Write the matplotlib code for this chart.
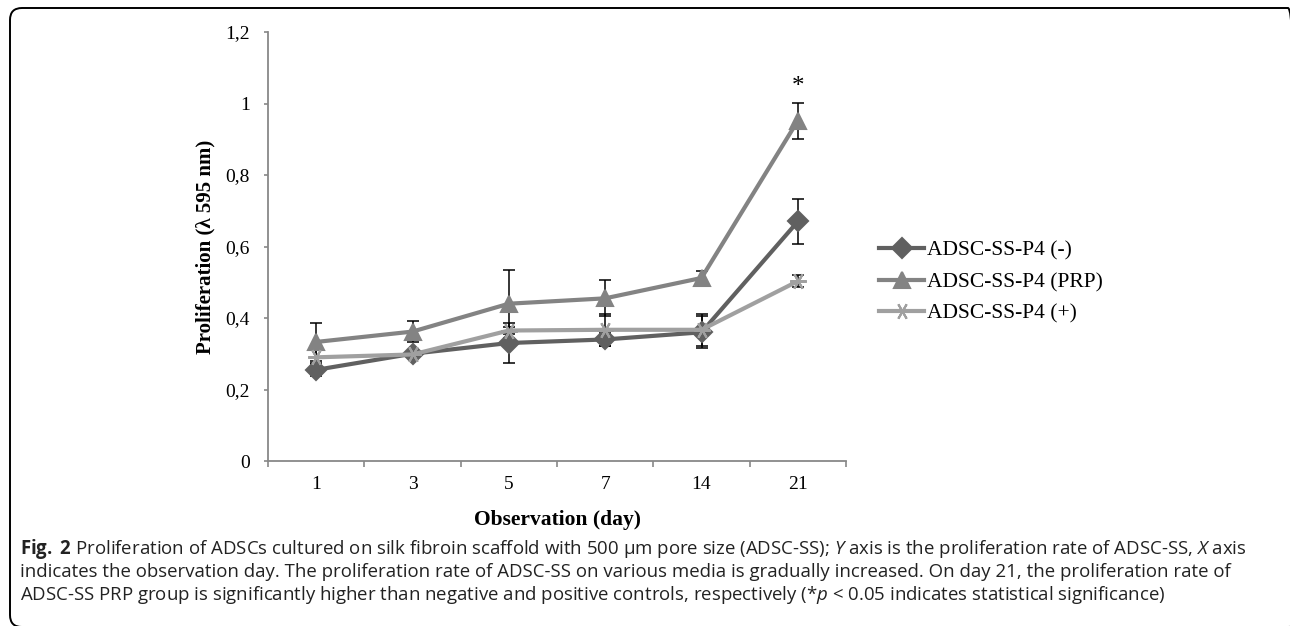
import matplotlib
matplotlib.use("Agg")
import matplotlib.pyplot as plt
from matplotlib.patches import FancyBboxPatch
from matplotlib.lines import Line2D

days = ["1", "3", "5", "7", "14", "21"]

neg = [0.255, 0.30, 0.33, 0.34, 0.36, 0.67]
neg_err = [0.018, 0.01, 0.055, 0.017, 0.045, 0.062]

prp = [0.333, 0.362, 0.44, 0.455, 0.512, 0.952]
prp_err = [0.053, 0.03, 0.095, 0.05, 0.02, 0.05]

pos = [0.29, 0.298, 0.365, 0.367, 0.367, 0.503]
pos_err = [0.02, 0.01, 0.01, 0.045, 0.045, 0.016]

yticks = [0, 0.2, 0.4, 0.6, 0.8, 1.0, 1.2]
ytick_labels = ["0", "0,2", "0,4", "0,6", "0,8", "1", "1,2"]

labels = ["ADSC-SS-P4 (-)", "ADSC-SS-P4 (PRP)", "ADSC-SS-P4 (+)"]
colors = ["#606060", "#838383", "#a0a0a0"]

caption = [
    r"$\mathbf{Fig.}$ $\mathbf{2}$ Proliferation of ADSCs cultured on silk fibroin scaffold with 500 μm pore size (ADSC-SS); $\mathit{Y}$ axis is the proliferation rate of ADSC-SS, $\mathit{X}$ axis",
    "indicates the observation day. The proliferation rate of ADSC-SS on various media is gradually increased. On day 21, the proliferation rate of",
    r"ADSC-SS PRP group is significantly higher than negative and positive controls, respectively (*$\mathit{p}$ < 0.05 indicates statistical significance)",
]

plt.rcParams["mathtext.fontset"] = "custom"
plt.rcParams["mathtext.rm"] = "Open Sans"
plt.rcParams["mathtext.it"] = "Open Sans:italic"
plt.rcParams["mathtext.bf"] = "Open Sans:bold"

W, H = 1290, 626
fig = plt.figure(figsize=(W / 100, H / 100), dpi=100)
# axes box in pixels: x 268..846, y 32..461
ax = fig.add_axes([268 / W, 1 - 461 / H, 578 / W, 429 / H])

x = list(range(len(days)))
star = (6, 2, 90)
series = [(neg, neg_err, "D", 10), (prp, prp_err, "^", 11), (pos, pos_err, star, 12)]
for (vals, err, mk, ms), lab, c in zip(series, labels, colors):
    ax.errorbar(x, vals, yerr=err, fmt="none", ecolor="black", elinewidth=1.1,
                capsize=4, capthick=1.1, zorder=2)
    ax.plot(x, vals, color=c, lw=3.0, marker=mk, markersize=ms,
            markeredgecolor=c, markeredgewidth=1.5, zorder=3)

ax.text(5, prp[5] + prp_err[5] + 0.045, "*", ha="center", va="center",
        fontsize=18, family="Liberation Serif")

ax.set_xlim(-0.5, 5.5)
ax.set_ylim(0, 1.2)
ax.set_xticks(x)
ax.set_xticklabels(days)
ax.set_xticks([i - 0.5 for i in range(len(days) + 1)], minor=True)
ax.tick_params(axis="x", which="major", length=0, pad=11)
ax.tick_params(axis="x", which="minor", length=4, color="#888888", width=1.2)
ax.set_yticks(yticks)
ax.set_yticklabels(ytick_labels)
ax.tick_params(axis="y", length=3, color="#888888", width=1.2, pad=10)
for t in ax.get_xticklabels() + ax.get_yticklabels():
    t.set_family("Liberation Serif")
    t.set_fontsize(14)

for s in ["top", "right"]:
    ax.spines[s].set_visible(False)
for s in ["left", "bottom"]:
    ax.spines[s].set_color("#888888")
    ax.spines[s].set_linewidth(1.3)

ax.set_xlabel("Observation (day)", family="Liberation Serif", fontsize=15.5,
              fontweight="bold", labelpad=12)
ax.set_ylabel("Proliferation (λ 595 nm)", family="Liberation Serif", fontsize=15,
              fontweight="bold", labelpad=7)

handles = [Line2D([], [], color=c, lw=3.0, marker=m, markersize=ms,
                  markeredgecolor=c, markeredgewidth=1.5)
           for (_, _, m, ms), c in zip(series, colors)]
fig.legend(handles, labels, loc="center left", bbox_to_anchor=(879 / W, 1 - 282 / H),
           frameon=False, borderpad=0, borderaxespad=0, handlelength=2.1,
           handletextpad=0.15, labelspacing=0.55,
           prop={"family": "Liberation Serif", "size": 15.5})

# caption, sized so that the first line runs from x=20 to x=1248
texts = []
for i, line in enumerate(caption):
    texts.append(fig.text(20 / W, 1 - (549 + i * 23) / H, line, family="Open Sans",
                          fontsize=11, color="#222222", va="center", ha="left"))
fig.canvas.draw()
width = texts[0].get_window_extent().width
for t in texts:
    t.set_fontsize(11 * 1228 / width)

box = FancyBboxPatch((0.10, H / 100 - 6.27), 12.90, 6.19,
                     boxstyle="round,pad=0,rounding_size=0.12",
                     transform=fig.dpi_scale_trans, fill=False, edgecolor="black", lw=1.4)
fig.patches.append(box)

fig.savefig("out.png", dpi=100)
